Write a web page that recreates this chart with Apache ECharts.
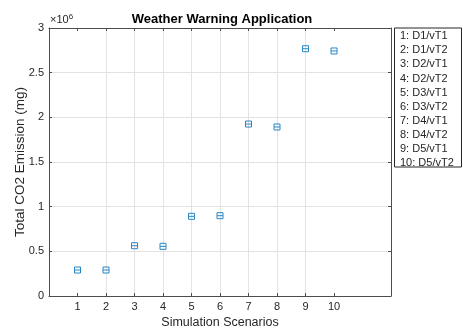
<!DOCTYPE html>
<html>
<head>
<meta charset="utf-8">
<script src="https://cdn.jsdelivr.net/npm/echarts@6/dist/echarts.min.js"></script>
<style>html,body{margin:0;padding:0;background:#fff;}#c{width:463px;height:336px;}</style>
</head>
<body>
<div id="c"></div>
<script>
const scenarios = [1, 2, 3, 4, 5, 6, 7, 8, 9, 10];
const emissions = [0.291e6, 0.291e6, 0.563e6, 0.556e6, 0.892e6, 0.899e6, 1.925e6, 1.892e6, 2.768e6, 2.743e6];
const legendLabels = ['1: D1/vT1', '2: D1/vT2', '3: D2/vT1', '4: D2/vT2', '5: D3/vT1', '6: D3/vT2', '7: D4/vT1', '8: D4/vT2', '9: D5/vT1', '10: D5/vT2'];
const yTicks = [0, 0.5e6, 1e6, 1.5e6, 2e6, 2.5e6, 3e6];

const FONT = '"Liberation Sans", Arial, Helvetica, sans-serif';
const TXT = '#262626';
const AX = '#4d4d4d';
const GRID = '#e3e3e3';

const chart = echarts.init(document.getElementById('c'), null, {renderer: 'canvas'});
const gridColors = scenarios.map(() => GRID).concat(['rgba(0,0,0,0)']);
const TICK = {show: true, inside: true, length: 3, lineStyle: {color: AX, width: 1}};

const option = {
  animation: false,
  backgroundColor: '#fff',
  title: {
    text: 'Weather Warning Application',
    left: 217, top: 8, textAlign: 'center',
    textStyle: {fontFamily: FONT, fontSize: 13, fontWeight: 'bold', color: '#000'}
  },
  grid: {left: 49, top: 28, right: 72, bottom: 40, containLabel: false, outerBoundsMode: 'none'},
  xAxis: [{
    type: 'value', min: 0, max: 12, interval: 1,
    name: 'Simulation Scenarios', nameLocation: 'middle', nameGap: 20, nameMoveOverlap: false,
    nameTextStyle: {fontFamily: FONT, fontSize: 12.5, color: TXT},
    axisLine: {show: true, onZero: false, lineStyle: {color: AX, width: 1}},
    axisTick: Object.assign({customValues: scenarios}, TICK),
    axisLabel: {fontFamily: FONT, fontSize: 11, color: TXT, margin: 5, customValues: scenarios},
    splitLine: {show: true, showMinLine: false, showMaxLine: false, lineStyle: {color: gridColors, width: 1}}
  }, {
    type: 'value', min: 0, max: 12, interval: 1, position: 'top',
    axisLine: {show: true, onZero: false, lineStyle: {color: AX, width: 1}},
    axisTick: Object.assign({customValues: scenarios}, TICK),
    axisLabel: {show: false},
    splitLine: {show: false}
  }],
  yAxis: [{
    type: 'value', min: 0, max: 3e6, interval: 0.5e6,
    name: 'Total CO2 Emission (mg)', nameLocation: 'middle', nameGap: 22, nameMoveOverlap: false,
    nameTextStyle: {fontFamily: FONT, fontSize: 13.5, color: TXT},
    axisLine: {show: true, onZero: false, lineStyle: {color: AX, width: 1}},
    axisTick: Object.assign({}, TICK),
    axisLabel: {fontFamily: FONT, fontSize: 11, color: TXT, margin: 5,
      formatter: v => String(+(v / 1e6).toFixed(1))},
    splitLine: {show: true, showMinLine: false, showMaxLine: false, lineStyle: {color: GRID, width: 1}}
  }, {
    type: 'value', min: 0, max: 3e6, interval: 0.5e6, position: 'right',
    axisLine: {show: true, onZero: false, lineStyle: {color: AX, width: 1}},
    axisTick: Object.assign({}, TICK),
    axisLabel: {show: false},
    splitLine: {show: false}
  }],
  series: [{
    type: 'scatter',
    data: scenarios.map((s, i) => [s, emissions[i]]),
    symbol: 'path://M0,0 L10,0 L10,10 L0,10 Z M0,5 L10,5',
    symbolSize: 6,
    itemStyle: {color: 'rgba(0,0,0,0)', borderColor: '#2a86c4', borderWidth: 1, opacity: 1}
  }],
  graphic: [
    {
      type: 'text', left: 50, top: 13,
      style: {
        text: '×10{s|6}', fontFamily: FONT, fontSize: 11, fill: TXT,
        rich: {s: {fontFamily: FONT, fontSize: 8, fill: TXT, verticalAlign: 'top', padding: [0, 0, 6, 0]}}
      }
    },
    {
      type: 'rect', left: 394, top: 27.5,
      shape: {width: 67, height: 139},
      style: {fill: '#fff', stroke: TXT, lineWidth: 1}
    },
    {
      type: 'text', left: 400, top: 29,
      style: {
        text: legendLabels.join('\n'), fontFamily: FONT, fontSize: 11, fill: TXT, lineHeight: 14.15
      }
    }
  ]
};
chart.setOption(option);
</script>
</body>
</html>
